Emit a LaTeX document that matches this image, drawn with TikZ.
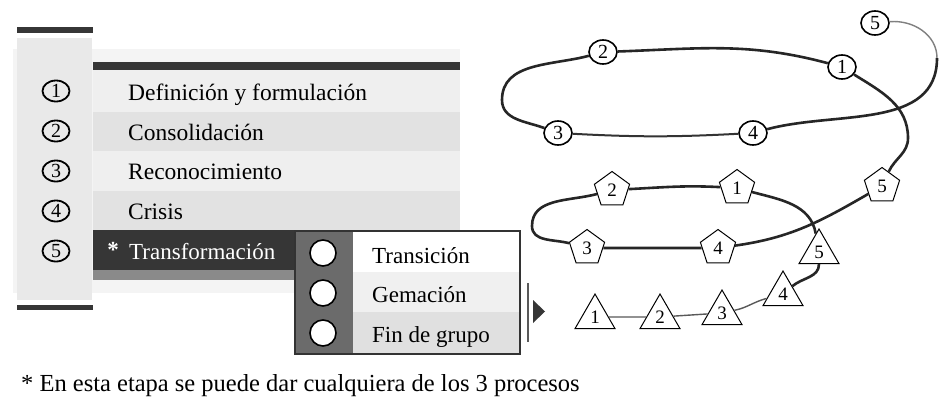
\documentclass[tikz,border=0pt]{standalone}
\usepackage{fontspec}
\setmainfont{Liberation Serif}
\usetikzlibrary{positioning,shapes.geometric}
\definecolor{oscuro}{HTML}{363636}
\definecolor{fondo}{HTML}{F4F4F4}
\definecolor{columna}{HTML}{E9E9E9}
\definecolor{filaclara}{HTML}{EFEFEF}
\definecolor{filagris}{HTML}{E2E2E2}
\definecolor{franja}{HTML}{8A8A8A}
\definecolor{cajagris}{HTML}{6B6B6B}

\begin{document}
\begin{tikzpicture}[x=1pt,y=-1pt,
    txt/.style={anchor=base west, inner sep=0pt, font=\fontsize{23}{23}\selectfont},
    numlist/.style={ellipse, draw, line width=1.8pt, minimum width=27pt, minimum height=21pt, inner sep=0pt, font=\fontsize{20}{20}\selectfont},
    numcirc/.style={ellipse, draw, fill=white, line width=1.6pt, minimum width=28pt, minimum height=24pt, inner sep=0pt, font=\fontsize{20}{20}\selectfont},
    numpent/.style={regular polygon, regular polygon sides=5, draw, fill=white, line width=1pt, minimum size=37pt, inner sep=0pt, font=\fontsize{19}{19}\selectfont},
    numtri/.style={regular polygon, regular polygon sides=3, draw, fill=white, line width=1pt, minimum size=46pt, inner sep=0pt, font=\fontsize{19}{19}\selectfont},
    opcion/.style={circle, draw, fill=white, line width=1.6pt, minimum size=26pt, inner sep=0pt},
    gruesa/.style={line width=2.6pt, color=black!85},
    media/.style={line width=2pt, color=black!80},
    fina/.style={line width=1.4pt, color=black!50},
  ]
  \fill[white] (0,0) rectangle (942,402);
  \useasboundingbox (0,0) rectangle (942,402);

  \fill[fondo] (13,49) rectangle (460,293);
  \fill[columna] (17,38) rectangle (92,300);
  \fill[oscuro] (17,27) rectangle (93,33);
  \fill[oscuro] (17,305) rectangle (93,310);
  \fill[oscuro] (93,62) rectangle (460,70);
  \fill[filaclara] (93,70) rectangle (460,112);
  \fill[filagris] (93,112) rectangle (460,151);
  \fill[filaclara] (93,151) rectangle (460,191);
  \fill[filagris] (93,191) rectangle (460,230);
  \fill[oscuro] (93,230) rectangle (295,270);
  \fill[franja] (93,270) rectangle (295,280);

  \node[numlist] (l1) at (56,91) {1};
  \node[numlist] (l2) at (56,131) {2};
  \node[numlist] (l3) at (56,171) {3};
  \node[numlist] (l4) at (56,211) {4};
  \node[numlist] (l5) at (56,251) {5};

  \node[txt, font=\fontsize{23.5}{23.5}\selectfont] (def) at (128,100.5) {Definición y formulación};
  \node[txt, font=\fontsize{23.5}{23.5}\selectfont] (con) at (128,140) {Consolidación};
  \node[txt, font=\fontsize{23.5}{23.5}\selectfont] (rec) at (128,179.5) {Reconocimiento};
  \node[txt, font=\fontsize{23.5}{23.5}\selectfont] (cri) at (128,219) {Crisis};
  \node[txt, text=white] (tra) at (129,259) {Transformación};
  \node[text=white, inner sep=0pt, font=\fontsize{23}{23}\selectfont\bfseries] (ast) at (113,250) {*};

  \fill[cajagris] (295,230) rectangle (521,355);
  \fill[white] (353,232) rectangle (519,272);
  \fill[black!6] (353,272) rectangle (519,312);
  \fill[black!12] (353,312) rectangle (519,353);
  \draw[black!80, line width=1.5pt] (295,231) rectangle (520,354);

  \node[opcion] (o1) at (323,253) {};
  \node[opcion] (o2) at (323,293) {};
  \node[opcion] (o3) at (323,333) {};
  \node[txt] (tsn) at (372,263) {Transición};
  \node[txt] (gem) at (372,302.5) {Gemación};
  \node[txt] (fin) at (372,342) {Fin de grupo};

  \draw[line width=2.5pt, black!65] (528,283) -- (528,342);
  \fill[oscuro] (533,300) -- (545,311.5) -- (533,323) -- cycle;

  \node[numcirc] (c5) at (875,23) {5};
  \node[numcirc] (c2) at (603,52) {2};
  \node[numcirc] (c1) at (842,67) {1};
  \node[numcirc] (c3) at (558,133) {3};
  \node[numcirc] (c4) at (753,133) {4};

  \node[numpent] (p2) at (612,190) {2};
  \node[numpent] (p1) at (737,188) {1};
  \node[numpent] (p5) at (882,186) {5};
  \node[numpent] (p3) at (587,248) {3};
  \node[numpent] (p4) at (718,248) {4};

  \node[numtri] (t5) at (819,252) {5};
  \node[numtri] (t4) at (783,294) {4};
  \node[numtri] (t3) at (722,313) {3};
  \node[numtri] (t2) at (660,317) {2};
  \node[numtri] (t1) at (595,317) {1};

  \coordinate (gd) at (937,58);
  \coordinate (iz) at (502,100);
  \coordinate (dr) at (908,138);
  \coordinate (pl) at (532,226);

  \draw[fina] (c5) to[out=5,in=90] (gd);
  \draw[gruesa] (gd) to[out=-90,in=15] (c4);
  \draw[media] (c4) to[out=183,in=-3] (c3);
  \draw[gruesa] (c3) to[out=160,in=-90] (iz) to[out=90,in=195] (c2);
  \draw[gruesa] (c2) to[out=2,in=165] (c1);
  \draw[gruesa] (c1) to[out=-32,in=90] (dr) to[out=-90,in=65] (p5);

  \draw[gruesa] (p5) to[out=210,in=8] (p4);
  \draw[gruesa] (p4) -- (p3);
  \draw[gruesa] (p3) to[out=165,in=-90] (pl) to[out=90,in=195] (p2);
  \draw[gruesa] (p2) to[out=3,in=177] (p1);
  \draw[gruesa] (p1) to[out=-15,in=100] (t5);
  \draw[gruesa] (t5) to[out=-90,in=40] (t4);
  \draw[fina, black!65] (t4) to[out=195,in=12] (t3) -- (t2) -- (t1);

  \node[txt, font=\fontsize{24.5}{24.5}\selectfont] (nota) at (21,391) {* En esta etapa se puede dar cualquiera de los 3 procesos};
\end{tikzpicture}
\end{document}
